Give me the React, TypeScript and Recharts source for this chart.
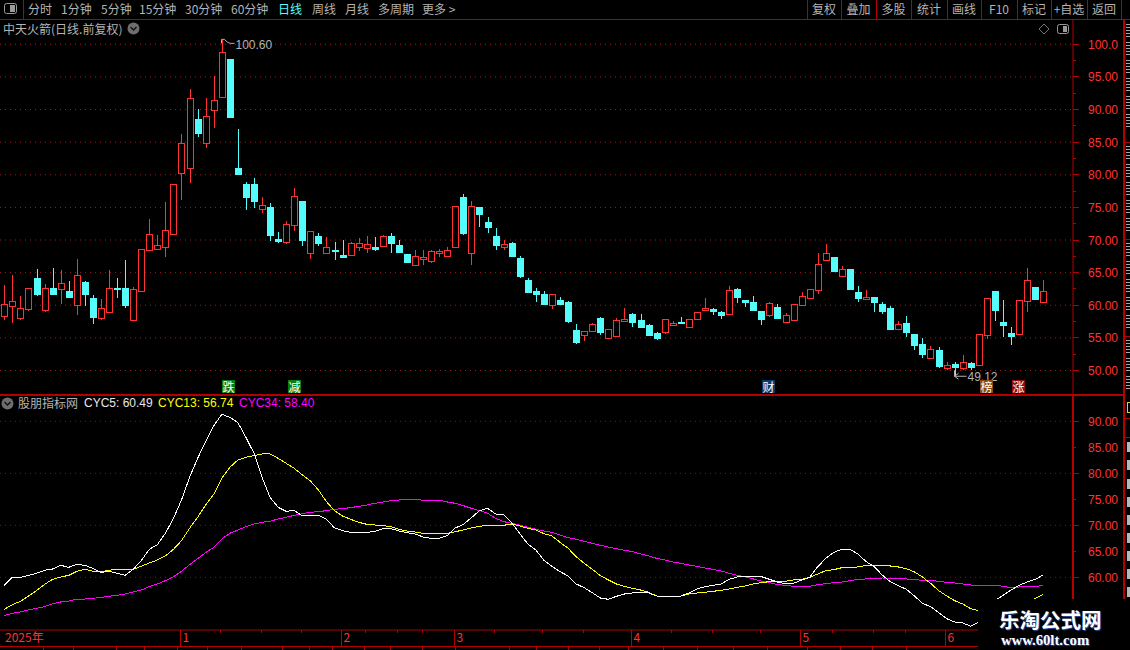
import { Bar, CartesianGrid, ComposedChart, Line, ReferenceDot, XAxis, YAxis } from 'recharts';

// daily candles
const opens = [
  58.38, 59.92, 58.08, 59.46, 64.16, 59.3, 62.63, 62.53, 62.17, 60.07,
  63.55, 61.09, 58.08, 59.0, 62.58, 62.63, 57.77, 62.22, 68.51, 68.66,
  68.97, 70.96, 80.32, 80.98, 88.55, 84.92, 89.88, 91.97, 97.75, 80.98,
  78.58, 78.58, 74.7, 75.05, 70.14, 69.73, 72.34, 75.97, 68.05, 70.6,
  68.05, 68.46, 67.69, 67.74, 68.97, 68.81, 68.9, 69.12, 70.6, 69.22,
  67.84, 66.2, 67.08, 66.77, 67.95, 67.59, 68.92, 76.58, 68.05, 75.05,
  72.75, 70.6, 68.92, 69.53, 67.23, 63.85, 62.17, 61.71, 60.02, 60.79,
  60.48, 56.19, 55.42, 56.03, 58.03, 54.96, 55.27, 57.57, 58.64, 57.72,
  56.95, 55.73, 55.88, 56.95, 57.41, 56.7, 57.92, 59.25, 59.41, 58.95,
  58.69, 62.47, 60.79, 60.48, 59.1, 58.49, 59.71, 57.46, 57.77, 60.07,
  61.15, 62.37, 66.97, 67.38, 64.47, 65.54, 62.01, 60.99, 61.25, 60.17,
  59.56, 56.39, 57.26, 55.57, 54.04, 51.94, 53.12, 50.41, 50.97, 50.41,
  51.12, 50.87, 55.47, 62.12, 57.41, 55.73, 55.62, 60.69, 62.78, 60.48,
];
const closes = [
  60.12, 60.58, 59.51, 62.58, 61.71, 62.58, 61.71, 63.34, 61.25, 64.57,
  61.71, 58.18, 59.51, 62.58, 62.5, 60.02, 62.42, 68.56, 70.86, 69.17,
  71.47, 78.53, 84.82, 91.72, 86.45, 88.96, 91.41, 98.77, 88.91, 80.16,
  76.64, 76.03, 75.3, 70.76, 69.84, 72.4, 76.69, 69.99, 71.32, 69.53,
  68.87, 68.35, 67.38, 69.48, 69.48, 69.33, 68.6, 70.6, 69.53, 68.15,
  66.62, 67.48, 67.33, 68.25, 68.25, 68.4, 75.15, 71.06, 75.15, 73.98,
  71.98, 69.22, 69.33, 67.54, 64.47, 62.01, 61.71, 60.17, 61.71, 60.17,
  57.57, 54.35, 55.98, 57.11, 55.88, 56.34, 57.72, 57.87, 57.41, 56.65,
  55.42, 54.96, 57.82, 57.26, 57.26, 57.82, 58.9, 59.56, 59.1, 58.49,
  62.27, 61.25, 60.48, 59.25, 57.87, 60.28, 58.03, 58.44, 60.12, 61.35,
  62.42, 66.26, 67.94, 65.23, 65.49, 62.47, 61.09, 61.25, 60.48, 59.1,
  56.34, 57.11, 55.88, 53.89, 52.5, 53.37, 50.66, 50.92, 50.56, 51.33,
  50.56, 55.52, 61.04, 59.25, 56.95, 55.27, 60.74, 63.8, 60.94, 62.12,
];
const highs = [
  63.04, 64.57, 61.4, 62.58, 65.54, 63.24, 65.7, 65.39, 63.65, 67.08,
  63.65, 61.5, 60.89, 65.39, 64.16, 66.92, 62.73, 68.56, 73.16, 70.71,
  75.77, 78.53, 86.25, 93.15, 90.08, 91.77, 95.14, 100.6, 97.75, 87.0,
  78.9, 79.5, 76.6, 75.66, 71.2, 72.9, 77.97, 75.97, 71.32, 71.06,
  70.45, 69.68, 70, 69.63, 70.25, 70.6, 70.45, 70.7, 71.06, 69.99,
  67.84, 68.46, 68.46, 68.46, 68.6, 68.9, 75.15, 77.04, 75.92, 75.05,
  73.52, 71.83, 69.99, 69.68, 67.54, 64.16, 62.63, 62.17, 61.71, 61.25,
  60.63, 57.11, 55.98, 57.26, 58.18, 56.34, 58.03, 59.56, 58.79, 58.64,
  57.11, 55.88, 57.82, 57.57, 58.18, 57.82, 58.9, 61.09, 59.56, 59.1,
  62.93, 62.63, 60.79, 61.4, 59.1, 60.48, 60.17, 58.74, 60.12, 61.96,
  62.42, 67.94, 69.38, 67.38, 66, 65.54, 62.93, 62.32, 61.25, 60.48,
  59.86, 57.57, 58.33, 55.57, 54.96, 53.73, 53.58, 51.28, 51.28, 52.35,
  51.28, 55.52, 61.04, 62.12, 60.79, 56.65, 60.74, 65.7, 62.78, 63.85,
];
const lows = [
  57.72, 57.31, 57.77, 59.15, 61.45, 59.0, 61.71, 60.17, 61.15, 58.49,
  59.92, 57.16, 57.77, 58.84, 61.09, 59.61, 57.77, 62.07, 68.51, 68.66,
  67.43, 70.76, 76.13, 78.78, 85.84, 84.15, 87.17, 91.97, 88.91, 80.16,
  74.6, 74.9, 74.2, 69.84, 69.5, 69.4, 71.37, 69.07, 67.08, 69.07,
  67.84, 66.92, 67.38, 67.54, 68.3, 68.0, 68.3, 69.12, 68.0, 68.0,
  66.62, 66.2, 66.15, 66.46, 67.38, 67.59, 68.76, 70.76, 66.15, 71.98,
  71.06, 68.46, 68.46, 67.54, 64.16, 62.01, 60.48, 60.17, 59.41, 60.02,
  57.26, 54.04, 54.5, 56.03, 55.42, 54.8, 55.27, 57.57, 56.65, 56.5,
  55.27, 54.65, 55.57, 56.8, 57.26, 56.7, 57.72, 59.25, 58.49, 57.87,
  58.69, 60.33, 59.71, 59.1, 56.95, 58.18, 58.03, 57.46, 57.77, 60.07,
  61.15, 61.71, 66.77, 65.08, 64.31, 62.47, 60.48, 60.99, 58.95, 58.64,
  56.19, 56.19, 55.1, 53.12, 51.89, 51.94, 50.35, 50.1, 49.12, 50.1,
  50.05, 50.71, 54.85, 57.57, 55.1, 53.89, 55.62, 58.95, 60.94, 60.33,
];

// indicator lines
const cyc5 = [
  58.46, 60, 60, 60.38, 60.77, 61.35, 61.6, 62.31, 61.92, 62.5,
  62.31, 61.73, 60.96, 61.15, 60.77, 60.38, 61.54, 63.2, 65.38, 66.28,
  68.46, 71.35, 74.87, 79.23, 82.88, 86.09, 89.1, 91.35, 90.77, 89.74,
  86.92, 83.85, 79.23, 75.38, 73.46, 72.69, 72.88, 71.79, 71.92, 71.92,
  71.15, 69.49, 68.97, 68.65, 68.65, 68.65, 68.8, 69.36, 69.36, 68.91,
  68.59, 68.33, 67.76, 67.5, 67.5, 68.01, 69.49, 70.19, 71.47, 72.82,
  73.27, 72.18, 72.05, 70.51, 68.4, 66.41, 65.26, 63.27, 62.12, 61.09,
  60.26, 58.72, 58.01, 57.05, 56.03, 55.77, 56.35, 56.79, 56.99, 57.05,
  56.99, 56.41, 56.28, 56.28, 56.41, 56.99, 57.76, 58.21, 58.46, 58.72,
  59.62, 60.06, 60.13, 60.19, 60.13, 59.62, 59.1, 58.72, 58.85, 59.49,
  60, 62.05, 63.65, 64.81, 65.38, 65.38, 64.49, 63.01, 62.05, 60.45,
  59.17, 58.4, 57.69, 56.41, 55, 54.36, 53.21, 52.05, 51.41, 51.22,
  50.58, 51.41, 53.27, 55.51, 56.54, 57.56, 58.46, 59.1, 59.6, 60.49,
];
const cyc13 = [
  53.85, 54.74, 55.38, 56.41, 57.44, 58.65, 59.62, 60.06, 60.38, 61.15,
  61.54, 61.15, 61.09, 61.35, 61.54, 61.54, 61.54, 62.12, 62.76, 63.33,
  64.1, 65.38, 67.05, 69.42, 71.54, 73.91, 75.96, 79.04, 81.15, 82.56,
  83.08, 83.4, 83.72, 83.72, 82.88, 81.92, 80.96, 79.68, 78.53, 76.79,
  74.55, 72.82, 71.79, 71.15, 70.58, 70.19, 70.06, 69.94, 69.74, 69.23,
  68.91, 68.72, 68.46, 68.46, 68.46, 68.46, 68.78, 69.1, 69.49, 69.81,
  70, 70, 70, 70.26, 69.87, 69.42, 69.1, 68.4, 67.95, 66.73,
  65.58, 63.97, 62.69, 61.54, 60.32, 59.49, 58.72, 58.27, 57.88, 57.56,
  57.12, 56.41, 56.35, 56.22, 56.41, 56.79, 56.99, 57.12, 57.31, 57.5,
  57.76, 58.08, 58.33, 58.72, 58.97, 59.17, 59.23, 59.23, 59.49, 59.62,
  60, 60.64, 61.28, 61.47, 61.86, 61.92, 61.99, 62.31, 62.31, 62.31,
  62.18, 61.99, 61.67, 61.03, 60.06, 58.85, 57.44, 56.41, 55.51, 54.87,
  53.97, 53.59, 53.4, 53.4, 53.72, 54.04, 54.49, 55.26, 55.96, 56.74,
];
const cyc34 = [
  52.69, 53.08, 53.33, 53.72, 54.04, 54.36, 54.94, 55.26, 55.45, 55.77,
  55.83, 55.96, 56.15, 56.35, 56.54, 56.79, 57.18, 57.56, 58.21, 58.72,
  59.36, 60.13, 61.15, 62.44, 63.59, 64.74, 65.77, 67.37, 68.46, 69.1,
  69.74, 70.26, 70.58, 70.77, 71.22, 71.54, 71.92, 72.24, 72.5, 72.63,
  72.82, 73.08, 73.21, 73.4, 73.65, 73.91, 74.23, 74.49, 74.74, 74.87,
  75, 75, 74.81, 74.81, 74.81, 74.49, 74.23, 73.78, 73.27, 72.82,
  72.31, 71.35, 70.71, 70.38, 70, 69.62, 69.23, 68.91, 68.65, 68.14,
  67.63, 67.31, 66.92, 66.54, 66.15, 65.83, 65.51, 65.19, 64.94, 64.49,
  64.1, 63.65, 63.33, 62.95, 62.69, 62.37, 62.12, 61.79, 61.54, 61.22,
  60.77, 60.38, 60.13, 59.68, 59.29, 58.97, 58.59, 58.46, 58.27, 58.27,
  58.27, 58.59, 58.78, 58.97, 59.1, 59.36, 59.62, 59.68, 59.74, 59.87,
  59.81, 59.81, 59.68, 59.55, 59.42, 59.42, 59.23, 59.04, 58.91, 58.72,
  58.53, 58.33, 58.46, 58.46, 58.27, 58.01, 58.14, 58.27, 58.27, 58.4,
];

const priceTicks = [50, 52.5, 55, 57.5, 60, 62.5, 65, 67.5, 70, 72.5, 75, 77.5, 80, 82.5, 85, 87.5, 90, 92.5, 95, 97.5, 100];
const priceGrid = [50, 55, 60, 65, 70, 75, 80, 85, 90, 95, 100];
const cycTicks = [60, 65, 70, 75, 80, 85, 90];
const cycGrid = [60, 70, 80, 90];

// month starts on the time axis (candle index -> label), then the small week marks
const monthIdx = [0, 22, 42, 56, 78, 99, 117];
const monthLabels = ['2025年', '1', '2', '3', '4', '5', '6'];
const weekIdx = [27, 32, 37, 45, 49, 52, 61, 67, 72, 83, 88, 94, 103, 108, 112];

const periods = [
  ['分时', 28], ['1分钟', 61], ['5分钟', 101], ['15分钟', 139], ['30分钟', 185], ['60分钟', 231],
  ['日线', 278], ['周线', 312], ['月线', 345], ['多周期', 378], ['更多 >', 422],
];
const buttons = ['复权', '叠加', '多股', '统计', '画线', 'F10', '标记', '+自选', '返回'];
const buttonEdges = [807, 841, 876, 911, 947, 981, 1017, 1051, 1087, 1121];
const flags = [
  ['跌', 222, '#0a7d12'], ['减', 288, '#0a7d12'], ['财', 762, '#0b3b6e'], ['榜', 980, '#8a4b08'], ['涨', 1012, '#8c0c12'],
];
const tabEdges = [43, 73, 116, 144, 177, 207, 241, 282, 309, 332, 364, 390, 422, 455, 509, 536, 568, 599, 628, 663, 697, 733, 767, 807, 840, 872, 906];
// rows of the next panel that are cut off by the window
const sliceRows = [24, 42, 60, 78, 96, 114, 146, 164, 182, 200, 218, 243, 261, 279, 297, 315, 340, 358, 376];
const blockRows = [442, 460, 479, 497, 515, 533, 551, 569, 587];

const data = opens.map((o, i) => ({
  idx: i,
  open: o,
  close: closes[i],
  high: highs[i],
  low: lows[i],
  range: [lows[i], highs[i]],
  cyc5: cyc5[i],
  cyc13: cyc13[i],
  cyc34: cyc34[i],
}));

const RED = '#ff3232';
const CYAN = '#54fcfc';
const LINE_RED = '#b30000';
const GRAY = '#b4b4b4';
const SANS = '"Liberation Sans", Arial, sans-serif';
const CJK = '"Noto Sans CJK SC", "Liberation Sans", sans-serif';

const AXIS_X = 1073;
const BAR_PAD = { left: 0.3, right: 25.7 };
// the lower pane has no bars, so its axis is a point scale: pad to the first and last candle centre
const LINE_PAD = { left: 4.3, right: 29.7 };

function Candle(props: any) {
  const { x, y, width, height, payload } = props;
  const perUnit = height / (payload.high - payload.low);
  const top = y + (payload.high - Math.max(payload.open, payload.close)) * perUnit;
  const bottom = y + (payload.high - Math.min(payload.open, payload.close)) * perUnit;
  const up = payload.close >= payload.open;
  const color = up ? RED : CYAN;
  const cx = Math.floor(x + width / 2) + 0.5;
  const bodyTop = Math.round(top) + 0.5;
  const bodyH = Math.max(Math.round(bottom) - Math.round(top), 1);
  return (
    <g shapeRendering="crispEdges">
      <line x1={cx} x2={cx} y1={y} y2={y + height} stroke={color} />
      <rect x={cx - 3} y={bodyTop} width={6} height={bodyH} stroke={color} fill={up ? '#000' : color} />
    </g>
  );
}

function PriceTick(props: any) {
  const { y, payload } = props;
  const major = payload.value % 5 === 0;
  const label = payload.value === 100 ? '100.0' : payload.value.toFixed(2);
  return (
    <g>
      <line x1={AXIS_X} x2={AXIS_X + (major ? 6 : 3)} y1={y} y2={y} stroke={LINE_RED} shapeRendering="crispEdges" />
      {major && (
        <text x={1118} y={y + 4.5} textAnchor="end" fill={RED} fontSize={12} fontFamily={SANS}>
          {label}
        </text>
      )}
    </g>
  );
}

function CycTick(props: any) {
  const { y, payload } = props;
  const major = payload.value % 10 === 0;
  return (
    <g>
      <line x1={AXIS_X} x2={AXIS_X + (major ? 6 : 3)} y1={y} y2={y} stroke={LINE_RED} shapeRendering="crispEdges" />
      <text x={1118} y={y + 4.5} textAnchor="end" fill={RED} fontSize={12} fontFamily={SANS}>
        {payload.value.toFixed(2)}
      </text>
    </g>
  );
}

function TimeTick(props: any) {
  const { x, payload } = props;
  const m = monthIdx.indexOf(payload.value);
  const px = Math.floor(x) - 0.5;
  if (m < 0) {
    return <line x1={px} x2={px} y1={236} y2={239} stroke={LINE_RED} shapeRendering="crispEdges" />;
  }
  return (
    <g>
      {m > 0 && <line x1={px} x2={px} y1={236} y2={252} stroke={LINE_RED} shapeRendering="crispEdges" />}
      <text x={m > 0 ? px + 2 : 5} y={248} fill={RED} fontSize={12} fontFamily={CJK}>
        {monthLabels[m]}
      </text>
    </g>
  );
}

// the small marker and value beside the highest and lowest candle
function Extreme(props: any) {
  const { cx, cy, text, high } = props;
  const x = Math.floor(cx) + 0.5;
  const path = high
    ? `M${x} ${cy + 3}V${cy - 1}H${x + 3}L${x + 6} ${cy + 2}L${x + 9} ${cy + 3}H${x + 13}`
    : `M${x} ${cy - 6}V${cy}M${x + 4} ${cy - 3}L${x} ${cy}L${x + 4} ${cy + 3}M${x} ${cy}H${x + 12}`;
  return (
    <g>
      <path d={path} fill="none" stroke={GRAY} />
      <text x={x + (high ? 14 : 13)} y={high ? cy + 9 : cy + 5} fill={GRAY} fontSize={12} fontFamily={SANS}>
        {text}
      </text>
    </g>
  );
}

function Txt({ x, y, color = GRAY, font = CJK, size = 12, children }: any) {
  return (
    <div style={{ position: 'absolute', left: x, top: y, color, fontFamily: font, fontSize: size, lineHeight: '16px', whiteSpace: 'nowrap' }}>
      {children}
    </div>
  );
}

function Rule({ x, y, w, h, color = LINE_RED }: any) {
  return <div style={{ position: 'absolute', left: x, top: y, width: w, height: h, background: color }} />;
}

function Chevron({ x, y }: any) {
  return (
    <svg style={{ position: 'absolute', left: x, top: y }} width={13} height={13}>
      <circle cx={6.5} cy={6.5} r={6} fill="#6e6e6e" />
      <path d="M3.5 5L6.5 8L9.5 5" fill="none" stroke="#111" strokeWidth={1.4} />
    </svg>
  );
}

function App() {
  return (
    <div style={{ position: 'fixed', left: 0, top: 0, width: 1130, height: 650, background: '#000', overflow: 'hidden' }}>
      {/* toolbar */}
      <Rule x={0} y={19} w={1130} h={1} />
      <Rule x={23} y={0} w={1} h={19} />
      <svg style={{ position: 'absolute', left: 4, top: 3 }} width={14} height={12}>
        <rect x={0.5} y={0.5} width={12} height={10} rx={2} fill="none" stroke="#9a9a9a" />
        <rect x={6} y={2} width={5} height={7} fill="#9a9a9a" />
      </svg>
      {periods.map(([label, x]) => (
        <Txt key={label} x={x} y={1} color={label === '日线' ? CYAN : GRAY}>{label}</Txt>
      ))}
      {buttonEdges.map((x) => <Rule key={x} x={x} y={0} w={1} h={19} />)}
      {buttons.map((label, i) => (
        <div
          key={label}
          style={{
            position: 'absolute', left: buttonEdges[i], width: buttonEdges[i + 1] - buttonEdges[i], top: 1, textAlign: 'center',
            color: GRAY, fontFamily: CJK, fontSize: 12, lineHeight: '16px',
          }}
        >
          {label}
        </div>
      ))}

      {/* price pane */}
      <div style={{ position: 'absolute', left: 0, top: 20 }}>
        <ComposedChart width={1123} height={374} data={data} margin={{ top: 0, right: 0, bottom: 0, left: 0 }}>
          <CartesianGrid horizontalValues={priceGrid} vertical={false} stroke="#a01c1c" strokeDasharray="1 4" />
          <XAxis dataKey="idx" hide padding={BAR_PAD} />
          <YAxis
            orientation="right"
            width={50}
            domain={[46.4, 103.72]}
            allowDataOverflow
            ticks={priceTicks}
            interval={0}
            axisLine={{ stroke: LINE_RED }}
            tickLine={false}
            tick={<PriceTick />}
          />
          <Bar dataKey="range" barSize={7} shape={<Candle />} isAnimationActive={false} />
          <ReferenceDot x={27} y={100.6} ifOverflow="visible" shape={<Extreme text="100.60" high />} />
          <ReferenceDot x={118} y={49.12} ifOverflow="visible" shape={<Extreme text="49.12" />} />
        </ComposedChart>
      </div>
      <Txt x={3} y={21}>中天火箭(日线.前复权)</Txt>
      <Chevron x={127} y={22} />
      <svg style={{ position: 'absolute', left: 1038, top: 23 }} width={33} height={13}>
        <path d="M6 1L11 6L6 11L1 6Z" fill="none" stroke="#777" />
        <rect x={19.5} y={1.5} width={11} height={9} rx={2} fill="none" stroke="#999" />
        <rect x={25} y={3} width={4} height={6} fill="#999" />
      </svg>
      {flags.map(([label, x, color]) => (
        <div
          key={label as string}
          style={{
            position: 'absolute', left: x as number, top: 380, width: 13, height: 13, background: color as string, color: '#fff',
            fontFamily: CJK, fontSize: 12, lineHeight: '13px', textAlign: 'center',
          }}
        >
          {label}
        </div>
      ))}

      <Rule x={0} y={394} w={1124} h={2} />

      {/* indicator pane */}
      <div style={{ position: 'absolute', left: 0, top: 394 }}>
        <ComposedChart width={1123} height={252} data={data} margin={{ top: 0, right: 0, bottom: 0, left: 0 }}>
          <CartesianGrid horizontalValues={cycGrid} vertical={false} stroke="#7a1616" strokeDasharray="1 4" />
          <XAxis
            dataKey="idx"
            height={16}
            padding={LINE_PAD}
            ticks={[...monthIdx, ...weekIdx]}
            interval={0}
            axisLine={{ stroke: LINE_RED }}
            tickLine={false}
            tick={<TimeTick />}
          />
          <YAxis
            orientation="right"
            width={50}
            domain={[49.87, 95.25]}
            allowDataOverflow
            ticks={cycTicks}
            interval={0}
            axisLine={{ stroke: LINE_RED, strokeWidth: 2 }}
            tickLine={false}
            tick={<CycTick />}
          />
          <Line dataKey="cyc34" type="linear" stroke="#ff00ff" dot={false} shapeRendering="crispEdges" isAnimationActive={false} />
          <Line dataKey="cyc13" type="linear" stroke="#ffff00" dot={false} shapeRendering="crispEdges" isAnimationActive={false} />
          <Line dataKey="cyc5" type="linear" stroke="#ffffff" dot={false} shapeRendering="crispEdges" isAnimationActive={false} />
        </ComposedChart>
      </div>
      <Chevron x={1} y={397} />
      <Txt x={18} y={395}>股朋指标网</Txt>
      <Txt x={84} y={395} color="#e8e8e8" font={SANS}>CYC5: 60.49</Txt>
      <Txt x={158} y={395} color="#ffff00" font={SANS}>CYC13: 56.74</Txt>
      <Txt x={239} y={395} color="#ff00ff" font={SANS}>CYC34: 58.40</Txt>

      {/* bottom edge of the time axis and the cut-off tab row */}
      <Rule x={0} y={646} w={978} h={1} />
      {tabEdges.map((x) => <Rule key={x} x={x} y={647} w={1} h={3} />)}

      {/* right edge of the window: the next panel, cut off */}
      <Rule x={1123} y={20} w={2} h={580} />
      <Rule x={1123} y={142} w={7} h={1} />
      <Rule x={1123} y={239} w={7} h={1} />
      <Rule x={1123} y={336} w={7} h={1} />
      <Rule x={1123} y={418} w={7} h={1} />
      <Rule x={1123} y={437} w={7} h={1} />
      {sliceRows.map((y) => (
        <div
          key={y}
          style={{
            position: 'absolute', left: 1126, top: y, width: 4, height: 13,
            background: 'repeating-linear-gradient(#a8a8a8 0 1px, transparent 1px 3px)',
          }}
        />
      ))}
      <div style={{ position: 'absolute', left: 1127, top: 402, width: 3, height: 11, boxSizing: 'border-box', border: '1px solid #d8d820', borderRight: 'none' }} />
      {blockRows.map((y) => <Rule key={y} x={1127} y={y} w={3} h={10} color="#b8b8b8" />)}

      {/* site watermark */}
      <div style={{ position: 'absolute', left: 978, top: 599, width: 152, height: 51, background: '#000' }} />
      <Txt x={999} y={609} color="#fff" size={20.5}>
        <span style={{ fontWeight: 700, lineHeight: '20px', textShadow: '1px 1px 1px #2a4a9a' }}>乐淘公式网</span>
      </Txt>
      <Txt x={1001} y={632} color="#fff" font='"Liberation Serif", serif' size={14.7}>
        <span style={{ fontWeight: 700, textShadow: '1px 1px 1px #2a4a9a' }}>www.60lt.com</span>
      </Txt>
    </div>
  );
}

export default App;
